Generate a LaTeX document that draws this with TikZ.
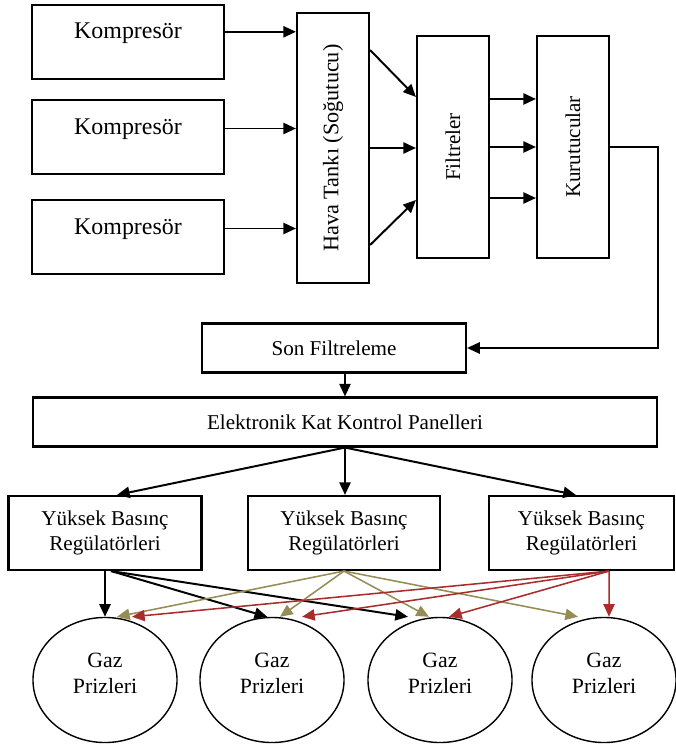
\documentclass[tikz,border=0pt]{standalone}
\usepackage{fontspec}
\setmainfont{Liberation Serif}
\usetikzlibrary{arrows.meta,shapes.geometric}
\definecolor{olivefl}{RGB}{150,140,85}
\definecolor{redfl}{RGB}{170,45,45}

\begin{document}
\begin{tikzpicture}[x=0.025cm, y=-0.025cm,
  every node/.style={font=\fontsize{15}{18}\selectfont},
  box/.style={shape=rectangle, draw=black, line width=1.5pt, inner sep=0pt, align=center},
  gaz/.style={shape=ellipse, draw=black, line width=1pt, inner sep=0pt, align=center, minimum width=3.6cm, minimum height=3.125cm},
  flow/.style={-{Triangle[length=9pt,width=8pt]}, line width=1.4pt, draw=black},
  oflow/.style={-{Triangle[length=9pt,width=8pt]}, line width=1.1pt, draw=olivefl},
  rflow/.style={-{Triangle[length=9pt,width=8pt]}, line width=1.1pt, draw=redfl}]
\useasboundingbox (0,0) rectangle (676,749);
\node[box, minimum width=4.8cm, minimum height=1.85cm, label={[yshift=0.22cm, font=\fontsize{17}{20}\selectfont]center:Kompresör}] (k1) at (128,42) {};
\node[box, minimum width=4.8cm, minimum height=1.85cm, label={[yshift=0.2cm, font=\fontsize{17}{20}\selectfont]center:Kompresör}] (k2) at (128,137) {};
\node[box, minimum width=4.8cm, minimum height=1.85cm, label={[yshift=0.2cm, font=\fontsize{17}{20}\selectfont]center:Kompresör}] (k3) at (128,237) {};
\node[box, minimum width=1.8cm, minimum height=6.75cm, label={[rotate=90, font=\fontsize{15.8}{18}\selectfont]center:Hava Tankı (Soğutucu)}] (tank) at (333,148) {};
\node[box, minimum width=1.8cm, minimum height=5.55cm, label={[rotate=90]center:Filtreler}] (filt) at (453,147) {};
\node[box, minimum width=1.8cm, minimum height=5.55cm, label={[rotate=90]center:Kurutucular}] (kur) at (573,147) {};
\node[box, minimum width=6.6cm, minimum height=1.225cm] (son) at (334,348) {Son Filtreleme};
\node[box, minimum width=15.6cm, minimum height=1.225cm] (elek) at (345,422) {Elektronik Kat Kontrol Panelleri};
\node[box, minimum width=4.825cm, minimum height=1.85cm] (y1) at (105,533) {Yüksek Basınç\\Regülatörleri};
\node[box, minimum width=4.8cm, minimum height=1.85cm] (y2) at (344,533) {Yüksek Basınç\\Regülatörleri};
\node[box, minimum width=4.625cm, minimum height=1.85cm] (y3) at (581.5,533) {Yüksek Basınç\\Regülatörleri};
\node[gaz, label={[yshift=0.17cm, font=\fontsize{15.5}{18.5}\selectfont, align=center]center:Gaz\\Prizleri}] (g1) at (105,680) {};
\node[gaz, label={[yshift=0.17cm, font=\fontsize{15.5}{18.5}\selectfont, align=center]center:Gaz\\Prizleri}] (g2) at (272,680) {};
\node[gaz, label={[yshift=0.17cm, font=\fontsize{15.5}{18.5}\selectfont, align=center]center:Gaz\\Prizleri}] (g3) at (440,680) {};
\node[gaz, label={[yshift=0.17cm, font=\fontsize{15.5}{18.5}\selectfont, align=center]center:Gaz\\Prizleri}] (g4) at (604,680) {};
\coordinate (bend) at (658,348);
% compressors to tank
\path (k1.6) edge[flow] (k1.6 -| tank.west);
\path (k2.5) edge[flow] (k2.5 -| tank.west);
\path (k3.5) edge[flow] (k3.5 -| tank.west);
% tank to filters to dryers
\path ([yshift=2.45cm]tank.east) edge[flow] ([yshift=1.25cm]filt.west);
\path (tank.east) edge[flow] (tank.east -| filt.west);
\path ([yshift=-2.425cm]tank.east) edge[flow] ([yshift=-1.325cm]filt.west);
\path ([yshift=1.2cm]filt.east) edge[flow] ([yshift=1.2cm]kur.west);
\path (filt.east) edge[flow] (kur.west);
\path ([yshift=-1.275cm]filt.east) edge[flow] ([yshift=-1.275cm]kur.west);
\draw [flow] (kur.east) -| (bend) -- (son.east);
\path (son.south -| elek.north) edge[flow] (elek.north);
\path (elek.south) edge[flow] ([xshift=0.3cm]y1.north);
\path (elek.south) edge[flow] (elek.south |- y2.north);
\path (elek.south) edge[flow] ([xshift=-0.14cm]y3.north);
% regulators to outlets
\path (y1.south) edge[flow] (g1.north);
\path ([xshift=0.15cm]y1.south) edge[flow] ([xshift=-0.12cm]g2.north);
\path ([xshift=0.15cm]y1.south) edge[flow] ([xshift=-0.8cm]g3.north);
\path (y2.south) edge[oflow] ([xshift=0.3cm]g1.north);
\path (y2.south) edge[oflow] ([xshift=0.2cm]g2.north);
\path (y2.south) edge[oflow] ([xshift=-0.275cm]g3.north);
\path (y2.south) edge[oflow] ([xshift=-0.65cm]g4.north);
\path ([xshift=0.69cm]y3.south) edge[rflow] ([xshift=0.675cm]g1.north);
\path ([xshift=0.69cm]y3.south) edge[rflow] ([xshift=0.75cm]g2.north);
\path ([xshift=0.69cm]y3.south) edge[rflow] ([xshift=0.225cm]g3.north);
\path ([xshift=0.69cm]y3.south) edge[rflow] ([xshift=0.125cm]g4.north);
\end{tikzpicture}
\end{document}
